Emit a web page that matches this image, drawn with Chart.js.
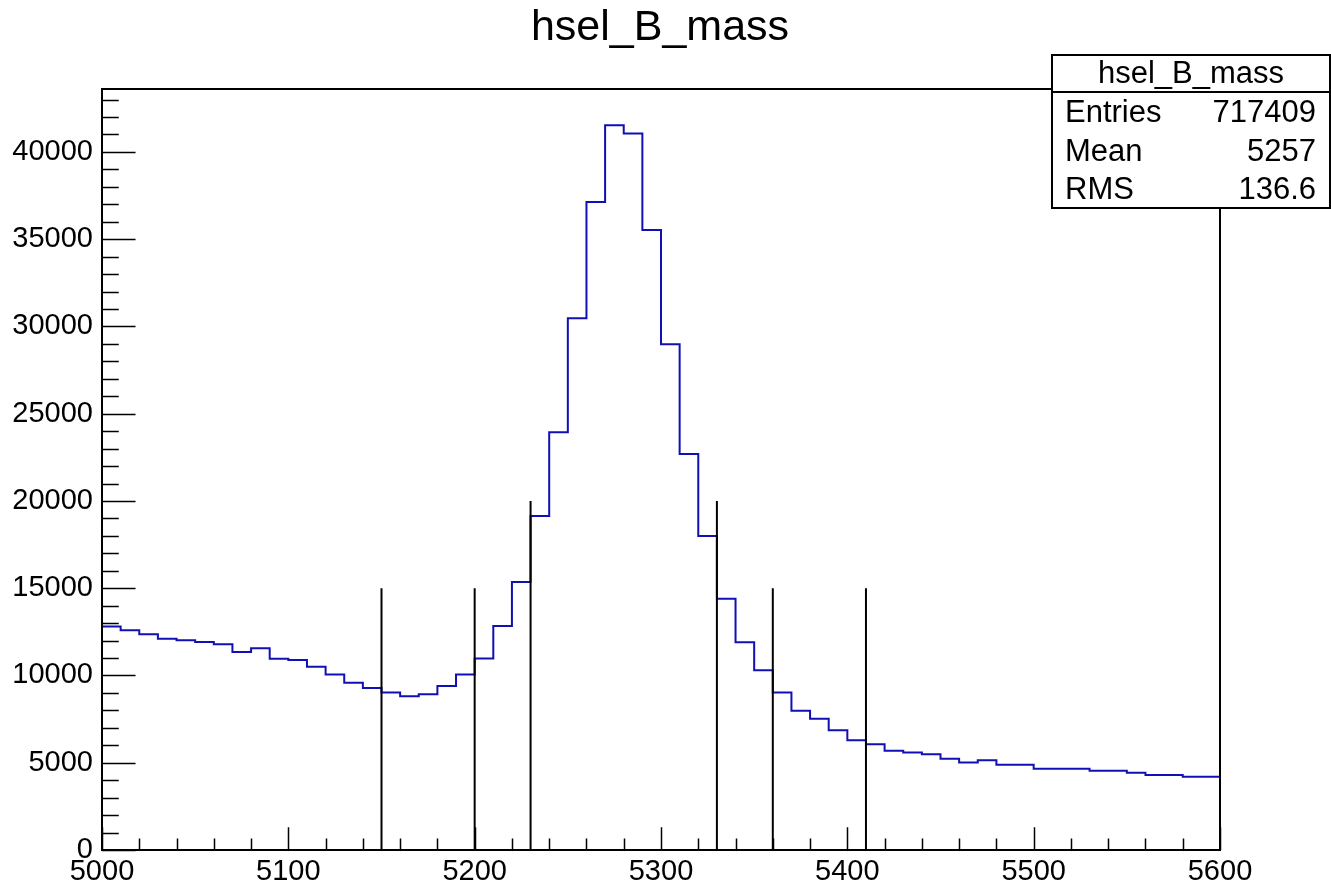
<!DOCTYPE html>
<html>
<head>
<meta charset="utf-8">
<title>hsel_B_mass</title>
<script src="https://cdn.jsdelivr.net/npm/chart.js@4.4.0/dist/chart.umd.min.js"></script>
<style>
  html, body { margin: 0; padding: 0; background: #fff; }
  #wrap { width: 1331px; height: 884px; position: relative; }
</style>
</head>
<body>
<div id="wrap"><canvas id="histChart"></canvas></div>
<script>
// ---- Data ----
const HIST_TITLE = "hsel_B_mass";
const BIN_LOW   = 5000;
const BIN_WIDTH = 10;

const binCounts = [
  12800, 12590, 12360, 12110, 12020, 11920, 11790, 11350, 11560, 10960,
  10890, 10500, 10060,  9590,  9280,  9020,  8810,  8920,  9400, 10060,
  10980, 12840, 15360, 19140, 23940, 30470, 37130, 41530, 41050, 35530,
  28980, 22690, 17990, 14400, 11900, 10300,  9020,  7980,  7520,  6860,
   6290,  6060,  5690,  5580,  5480,  5230,  5020,  5140,  4890,  4890,
   4660,  4660,  4660,  4540,  4540,  4430,  4300,  4300,  4200,  4200
];

// vertical cut lines
const cutPositions = [5150, 5200, 5230, 5330, 5360, 5410];
const cutHeights   = [15000, 15000, 20000, 20000, 15000, 15000];

const xTicks = [5000, 5100, 5200, 5300, 5400, 5500, 5600];
const yTicks = [0, 5000, 10000, 15000, 20000, 25000, 30000, 35000, 40000];
const xMinorStep = 20;
const yMinorStep = 1000;

const statsLabels = ["Entries", "Mean", "RMS"];
const statsValues = ["717409", "5257", "136.6"];

const FONT = "'Liberation Sans', Arial, Helvetica, sans-serif";

// ---- Build datasets ----
const histPoints = binCounts.map((v, i) => ({ x: BIN_LOW + i * BIN_WIDTH, y: v }));
histPoints.push({ x: BIN_LOW + binCounts.length * BIN_WIDTH, y: binCounts[binCounts.length - 1] });

const cutSets = cutPositions.map((x, i) => ({
  data: [{ x: x, y: 0 }, { x: x, y: cutHeights[i] }],
  borderColor: "#000",
  borderWidth: 2,
  pointRadius: 0,
  fill: false,
  order: 0
}));

// ---- ROOT-like frame, inside ticks, title and stats box ----
const rootDecor = {
  id: "rootDecor",
  afterDatasetsDraw(chart) {
    const ctx = chart.ctx;
    const a = chart.chartArea;
    const xs = chart.scales.x, ys = chart.scales.y;
    ctx.save();
    ctx.strokeStyle = "#000";
    ctx.lineWidth = 2;
    ctx.strokeRect(a.left, a.top, a.right - a.left, a.bottom - a.top);

    ctx.lineWidth = 1.5;
    ctx.beginPath();
    const yMajLen = 0.03 * (a.right - a.left);
    for (let v = ys.min; v <= ys.max; v += yMinorStep) {
      const p = Math.round(ys.getPixelForValue(v)) + 0.5;
      const len = (v % 5000 === 0) ? yMajLen : yMajLen / 2;
      ctx.moveTo(a.left, p);
      ctx.lineTo(a.left + len, p);
    }
    const xMajLen = 0.03 * (a.bottom - a.top);
    for (let v = xs.min; v <= xs.max; v += xMinorStep) {
      const p = Math.round(xs.getPixelForValue(v)) + 0.5;
      const len = (v % 100 === 0) ? xMajLen : xMajLen / 2;
      ctx.moveTo(p, a.bottom);
      ctx.lineTo(p, a.bottom - len);
    }
    ctx.stroke();
    ctx.restore();
  },
  afterDraw(chart) {
    const ctx = chart.ctx;
    ctx.save();
    ctx.fillStyle = "#000";
    ctx.textAlign = "center";
    ctx.textBaseline = "alphabetic";
    ctx.font = "43px " + FONT;
    ctx.fillText(HIST_TITLE, 660, 40);

    // stats box
    const bx = 1052, by = 55, bw = 278, bh = 153, headH = 37;
    ctx.fillStyle = "#fff";
    ctx.fillRect(bx, by, bw, bh);
    ctx.strokeStyle = "#000";
    ctx.lineWidth = 2;
    ctx.strokeRect(bx, by, bw, bh);
    ctx.beginPath();
    ctx.moveTo(bx, by + headH);
    ctx.lineTo(bx + bw, by + headH);
    ctx.stroke();

    ctx.fillStyle = "#000";
    ctx.font = "31px " + FONT;
    ctx.textBaseline = "middle";
    ctx.fillText(HIST_TITLE, bx + bw / 2, by + headH / 2 + 1);
    const rowH = (bh - headH) / statsLabels.length;
    statsLabels.forEach((lab, i) => {
      const cy = by + headH + rowH * (i + 0.5) + 2;
      ctx.textAlign = "left";
      ctx.fillText(lab, bx + 13, cy);
      ctx.textAlign = "right";
      ctx.fillText(statsValues[i], bx + 264, cy);
    });
    ctx.restore();
  }
};

const ctx = document.getElementById("histChart").getContext("2d");
new Chart(ctx, {
  type: "line",
  data: {
    datasets: [
      ...cutSets,
      {
        data: histPoints,
        stepped: "before",
        borderColor: "#1010b4",
        borderWidth: 2,
        pointRadius: 0,
        fill: false,
        order: 1
      }
    ]
  },
  options: {
    responsive: true,
    maintainAspectRatio: false,
    animation: false,
    layout: { padding: { top: 89, right: 111, left: 0, bottom: 0 } },
    plugins: {
      legend: { display: false },
      title: { display: false },
      tooltip: { enabled: false }
    },
    scales: {
      x: {
        type: "linear",
        min: BIN_LOW,
        max: BIN_LOW + binCounts.length * BIN_WIDTH,
        afterBuildTicks: s => { s.ticks = xTicks.map(v => ({ value: v })); },
        afterFit: s => { s.height = 34; },
        grid: { display: false, drawTicks: false },
        border: { display: false },
        ticks: {
          color: "#000",
          padding: 5,
          maxRotation: 0,
          autoSkip: false,
          font: { family: FONT, size: 29 },
          callback: v => String(v)
        }
      },
      y: {
        type: "linear",
        min: 0,
        max: Math.max(...binCounts) * 1.05,
        afterBuildTicks: s => { s.ticks = yTicks.map(v => ({ value: v })); },
        afterFit: s => { s.width = 102; },
        grid: { display: false, drawTicks: false },
        border: { display: false },
        ticks: {
          color: "#000",
          padding: 9,
          autoSkip: false,
          font: { family: FONT, size: 29 },
          callback: v => String(v)
        }
      }
    }
  },
  plugins: [rootDecor]
});
</script>
</body>
</html>
